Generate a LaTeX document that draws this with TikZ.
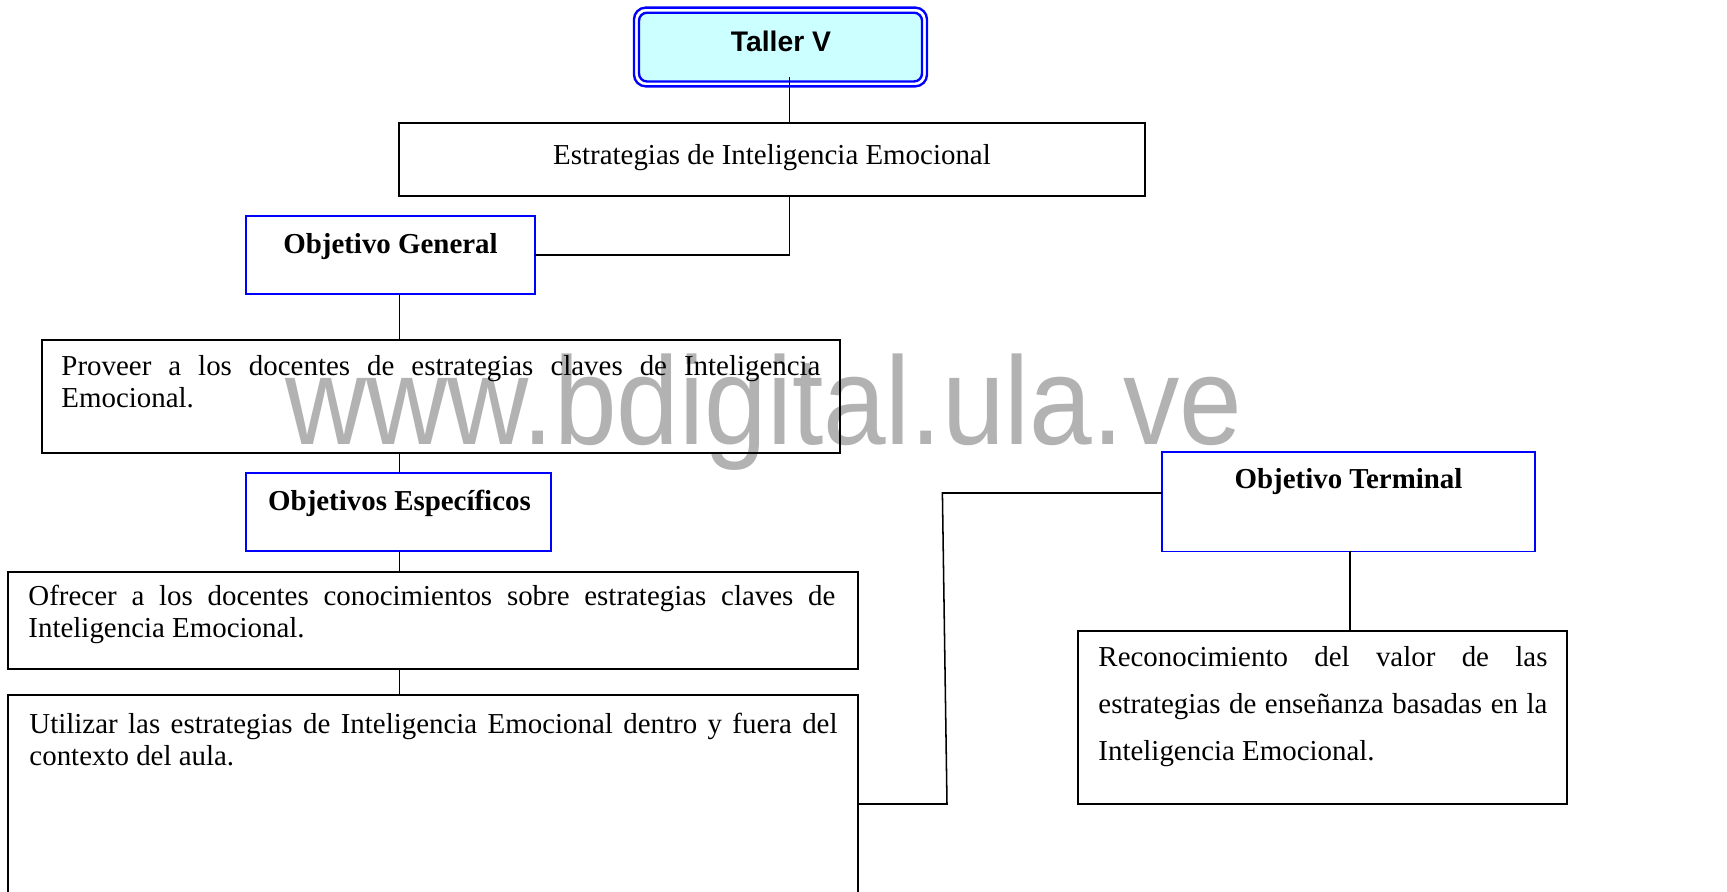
\documentclass[tikz,border=0pt]{standalone}
\usepackage{fontspec}
\setmainfont{Liberation Serif}
\newfontfamily\arialfont{Liberation Sans}
\usetikzlibrary{fit}
\definecolor{wmgray}{RGB}{178,178,178}
\definecolor{tcyan}{RGB}{204,255,255}
\definecolor{bblue}{RGB}{0,0,255}
\newdimen\pxu
\pxu=0.4237pt
\tikzset{
  bbox/.style={draw=black, line width=0.85pt, inner sep=0pt, outer sep=0pt},
  blbox/.style={draw=bblue, line width=0.7pt, inner sep=0pt, outer sep=0pt},
  conn/.style={draw=black, line width=0.65pt},
  txt/.style={anchor=base west, inner sep=0pt, font=\fontsize{12.25}{14}\selectfont},
  ctxt/.style={anchor=base, inner sep=0pt, font=\fontsize{12.25}{14}\selectfont},
  btxt/.style={anchor=base, inner sep=0pt, font=\fontsize{12.25}{14}\selectfont\bfseries},
}
\begin{document}
\begin{tikzpicture}[x=0.4237pt,y=-0.4237pt]
\useasboundingbox (0,0) rectangle (1727,892);
\clip (0,0) rectangle (1727,892);
\fill[white] (0,0) rectangle (1727,892);
% watermark
\node[anchor=base, inner sep=0pt, text=wmgray, font=\arialfont\fontsize{53}{53}\selectfont] (wm) at (764,445) {\scalebox{0.9}[1]{www.bdigital.ula.ve}};
% Taller V
\node[draw=bblue, line width=1pt, rounded corners=5pt, inner sep=0pt, outer sep=0pt, fit={(634,7.6) (927,86.4)}] (tallerout) {};
\node[draw=bblue, fill=tcyan, line width=1pt, rounded corners=3.4pt, inner sep=0pt, outer sep=0pt, fit={(639,12.7) (922,81.5)}] (taller) {};
\node[btxt, font=\arialfont\fontsize{12}{14}\selectfont\bfseries] (tv) at (781,51.5) {Taller V};
% boxes
\node[bbox, fit={(399,123) (1145,196)}] (est) {};
\node[ctxt] (estt) at (772,165) {Estrategias de Inteligencia Emocional};
\node[blbox, fit={(246,215.7) (535,294)}] (og) {};
\node[btxt] (ogt) at (390.5,254) {Objetivo General};
\node[bbox, fit={(42,340) (840,453)}] (prov) {};
\node[txt] (prov1) at (61,376) {\makebox[759\pxu][s]{Proveer a los docentes de estrategias claves de Inteligencia}};
\node[txt] (prov2) at (61,408) {Emocional.};
\node[blbox, fit={(246,472.7) (551,551)}] (oe) {};
\node[btxt] (oet) at (399.5,511) {Objetivos Específicos};
\node[bbox, fit={(8,572) (858,669)}] (ofr) {};
\node[txt] (ofr1) at (28,606) {\makebox[807\pxu][s]{Ofrecer a los docentes conocimientos sobre estrategias claves de}};
\node[txt] (ofr2) at (28,638) {Inteligencia Emocional.};
\node[bbox, fit={(8,695) (858,910)}] (uti) {};
\node[txt] (uti1) at (29,734) {\makebox[808\pxu][s]{Utilizar las estrategias de Inteligencia Emocional dentro y fuera del}};
\node[txt] (uti2) at (29,766) {contexto del aula.};
\node[blbox, fit={(1162,452) (1535,551.5)}] (ot) {};
\node[btxt] (ott) at (1348.5,489) {Objetivo Terminal};
\node[bbox, fit={(1078,631) (1567,804)}] (rec) {};
\node[txt] (rec1) at (1098,667) {\makebox[449\pxu][s]{Reconocimiento del valor de las}};
\node[txt] (rec2) at (1098,714) {\makebox[449\pxu][s]{estrategias de enseñanza basadas en la}};
\node[txt] (rec3) at (1098,761) {Inteligencia Emocional.};
% connectors
\coordinate (t1) at (789.4,77.3);
\coordinate (c1) at (399.4,0);
\coordinate (c2) at (1350,0);
\coordinate (b1) at (947,804);
\coordinate (b2) at (942.4,493);
\draw[conn] (t1) -- (t1 |- est.north);
\draw[conn] (est.south -| t1) |- (og.east);
\draw[conn] (og.south -| c1) -- (prov.north -| c1);
\draw[conn] (prov.south -| c1) -- (oe.north -| c1);
\draw[conn] (oe.south -| c1) -- (ofr.north -| c1);
\draw[conn] (ofr.south -| c1) -- (uti.north -| c1);
\draw[conn] (uti.east |- b1) -- (b1) -- (b2) -- (b2 -| ot.west);
\draw[conn] (ot.south -| c2) -- (rec.north -| c2);
\end{tikzpicture}
\end{document}
